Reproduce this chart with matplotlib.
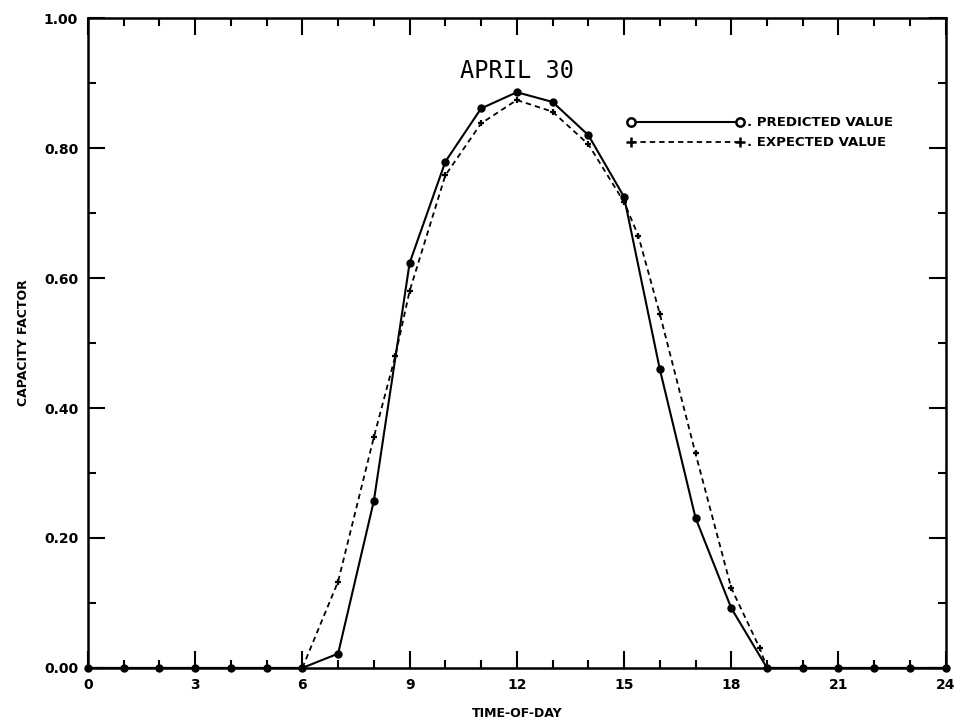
import matplotlib
matplotlib.use("Agg")
import matplotlib.pyplot as plt
from matplotlib.ticker import MultipleLocator

# hourly predicted capacity factor
pred_hours = list(range(0, 25))
pred_vals = [0, 0, 0, 0, 0, 0, 0, 0.022, 0.257, 0.623, 0.779, 0.861, 0.886,
             0.871, 0.820, 0.725, 0.460, 0.231, 0.092, 0, 0, 0, 0, 0, 0]

# expected value curve (marked points)
exp_hours = [6, 7, 8, 8.6, 9, 10, 11, 12, 13, 14, 15, 15.4, 16, 17, 18, 18.8, 19]
exp_vals = [0, 0.133, 0.355, 0.48, 0.580, 0.758, 0.838, 0.874, 0.856, 0.806,
            0.717, 0.665, 0.545, 0.330, 0.123, 0.030, 0]

x_ticks = list(range(0, 25, 3))
y_ticks = [0, 0.2, 0.4, 0.6, 0.8, 1.0]
y_labels = ["0.00", "0.20", "0.40", "0.60", "0.80", "1.00"]

fig = plt.figure(figsize=(9.66, 7.26), dpi=100)
ax = fig.add_axes([0.091, 0.080, 0.888, 0.895])

ax.plot(pred_hours, pred_vals, color="black", lw=1.5, marker="o", ms=5,
        zorder=3, clip_on=False)
ax.plot(exp_hours, exp_vals, color="black", lw=1.3, ls=(0, (3, 2.2)),
        marker="+", ms=5, mew=1.6, zorder=3, clip_on=False)

ax.set_xlim(0, 24)
ax.set_ylim(0, 1.0)
ax.set_xticks(x_ticks)
ax.set_yticks(y_ticks)
ax.set_yticklabels(y_labels)
ax.xaxis.set_minor_locator(MultipleLocator(1))
ax.yaxis.set_minor_locator(MultipleLocator(0.1))
ax.tick_params(which="both", direction="in", top=True, right=True, width=1.5)
ax.tick_params(which="major", length=12, labelsize=10, pad=7)
ax.tick_params(which="minor", length=6)
for lab in ax.get_xticklabels() + ax.get_yticklabels():
    lab.set_fontweight("bold")
for s in ax.spines.values():
    s.set_linewidth(1.8)

ax.set_xlabel("TIME-OF-DAY", fontsize=9, fontweight="bold", labelpad=11)
ax.set_ylabel("CAPACITY FACTOR", fontsize=9, fontweight="bold", labelpad=10)

ax.text(12, 0.90, "APRIL 30", ha="center", va="bottom", fontsize=17,
        family="DejaVu Sans Mono")

# legend drawn by hand like the original plotter key
ax.plot([15.2, 18.25], [0.84, 0.84], color="black", lw=1.5, marker="o",
        ms=6, mfc="white", mew=1.8)
ax.text(18.45, 0.84, ". PREDICTED VALUE", va="center", fontsize=9.5,
        fontweight="bold")
ax.plot([15.2, 18.25], [0.809, 0.809], color="black", lw=1.3,
        ls=(0, (3, 2.2)), marker="+", ms=7, mew=1.8)
ax.text(18.45, 0.809, ". EXPECTED VALUE", va="center", fontsize=9.5,
        fontweight="bold")

fig.savefig("out.png", dpi=100)
